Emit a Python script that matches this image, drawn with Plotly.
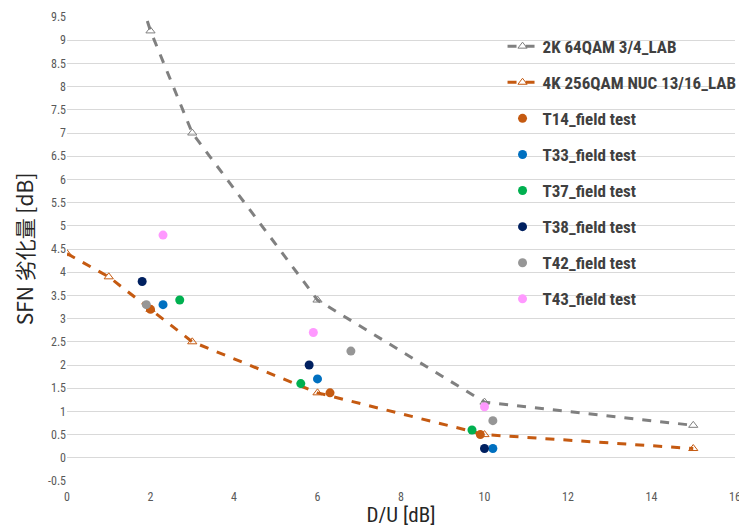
import plotly.graph_objects as go

# Lab curves
lab2k_x = [1, 2, 3, 6, 10, 15]
lab2k_y = [12.0, 9.2, 7.0, 3.4, 1.2, 0.7]
lab4k_x = [0, 1, 2, 3, 6, 10, 15]
lab4k_y = [4.4, 3.9, 3.2, 2.5, 1.4, 0.5, 0.2]

# Field tests
t14_x = [2.0, 6.3, 9.9]
t14_y = [3.2, 1.4, 0.5]
t33_x = [2.3, 6.0, 10.2]
t33_y = [3.3, 1.7, 0.2]
t37_x = [2.7, 5.6, 9.7]
t37_y = [3.4, 1.6, 0.6]
t38_x = [1.8, 5.8, 10.0]
t38_y = [3.8, 2.0, 0.2]
t42_x = [1.9, 6.8, 10.2]
t42_y = [3.3, 2.3, 0.8]
t43_x = [2.3, 5.9, 10.0]
t43_y = [4.8, 2.7, 1.1]

y_ticks = [-0.5 + 0.5 * i for i in range(21)]
y_tick_text = ["-0.5", "0", "0.5", "1", "1.5", "2", "2.5", "3", "3.5", "4", "4.5",
               "5", "5.5", "6", "6.5", "7", "7.5", "8", "8.5", "9", "9.5"]
x_ticks = [0, 2, 4, 6, 8, 10, 12, 14, 16]

FONT = "Liberation Sans Narrow, Roboto Condensed, Liberation Sans, Arial, sans-serif"

fig = go.Figure()
fig.add_trace(go.Scatter(
    x=lab2k_x, y=lab2k_y, mode="lines+markers", name="2K 64QAM 3/4_LAB",
    line=dict(color="#808080", width=3, dash="dash"),
    marker=dict(symbol="triangle-up-open", size=8, color="#7F7F7F", line=dict(width=1)),
    legendgroup="a"))
fig.add_trace(go.Scatter(
    x=lab4k_x, y=lab4k_y, mode="lines+markers", name="4K 256QAM NUC 13/16_LAB",
    line=dict(color="#C55A11", width=3, dash="dash"),
    marker=dict(symbol="triangle-up-open", size=8, color="#C55A11", line=dict(width=1)),
    legendgroup="b"))

pts = [
    ("T14_field test", t14_x, t14_y, "#C55A11", "c"),
    ("T33_field test", t33_x, t33_y, "#0070C0", "d"),
    ("T37_field test", t37_x, t37_y, "#00B050", "e"),
    ("T38_field test", t38_x, t38_y, "#002060", "f"),
    ("T42_field test", t42_x, t42_y, "#969696", "g"),
    ("T43_field test", t43_x, t43_y, "#FF99FF", "h"),
]
for name, xs, ys, col, g in pts:
    fig.add_trace(go.Scatter(x=xs, y=ys, mode="markers", name=name,
                             marker=dict(symbol="circle", size=9, color=col),
                             legendgroup=g))

fig.update_layout(
    width=739, height=519,
    margin=dict(l=59, r=12, t=9, b=46, autoexpand=False),
    plot_bgcolor="white", paper_bgcolor="white",
    font=dict(family=FONT, color="#595959", size=12),
    legend=dict(x=0.652, y=0.975, xanchor="left", yanchor="top",
                bgcolor="rgba(0,0,0,0)", tracegroupgap=11,
                font=dict(family=FONT, size=17, color="#404040", weight="bold")),
    xaxis=dict(range=[0, 16], tickvals=x_ticks, showgrid=False, zeroline=False,
               showline=False, ticks="", automargin=True, ticklabelstandoff=7,
               tickfont=dict(size=12, color="#595959"),
               title=dict(text="D/U [dB]", standoff=4,
                          font=dict(size=21, color="#262626"))),
    yaxis=dict(range=[-0.5, 9.5], tickvals=y_ticks, ticktext=y_tick_text,
               showgrid=True, gridcolor="#D9D9D9", gridwidth=1, zeroline=False,
               showline=False, ticks="", automargin=True,
               tickfont=dict(size=12, color="#595959"),
               title=dict(text="SFN 劣化量 [dB]", standoff=8,
                          font=dict(size=21, color="#262626",
                                    family="Noto Sans CJK JP, sans-serif"))),
)

fig.write_html("out.html")
